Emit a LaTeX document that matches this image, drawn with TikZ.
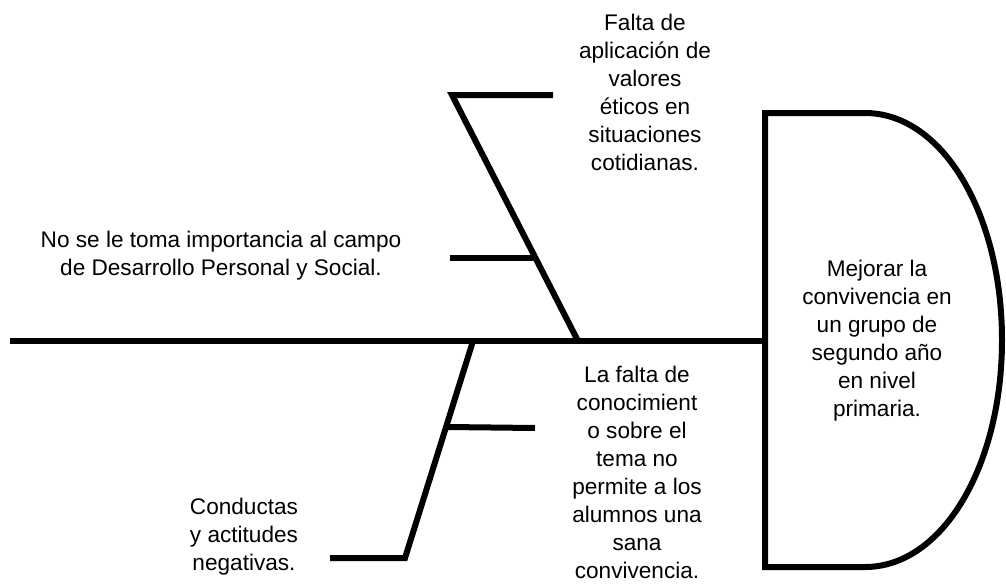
\documentclass[tikz,border=0pt]{standalone}
\usepackage{fontspec}
\setmainfont{Liberation Sans}
\begin{document}
\begin{tikzpicture}[x=1pt,y=-1pt,
  bone/.style={line width=6pt,black},
  lbl/.style={align=center,inner sep=0pt,font=\fontsize{22.6}{28}\selectfont}]
\useasboundingbox (0,0) rectangle (1006,584);
% coordinates
\coordinate (tail) at (10,341);
\coordinate (headL) at (765,341);
\coordinate (u1base) at (578,341);
\coordinate (u1top) at (452,95);
\coordinate (u1end) at (553,95);
\coordinate (u2a) at (450,258);
\coordinate (u2b) at (535.5,258);
\coordinate (l1base) at (473,341);
\coordinate (l1bot) at (405,558);
\coordinate (l1end) at (330,558);
\coordinate (l2a) at (448,427);
\coordinate (l2b) at (535,428);
% head
\draw[bone] (765,113) -- (865,113)
  .. controls (943,113) and (1002,215) .. (1002,340)
  .. controls (1002,465) and (943,567) .. (865,567)
  -- (765,567) -- cycle;
% spine
\draw[bone] (tail) -- (headL);
% upper bone
\draw[bone] (u1end) -- (u1top) -- (u1base);
\draw[bone] (u2a) -- (u2b);
% lower bone
\draw[bone] (l1end) -- (l1bot) -- (l1base);
\draw[bone] (l2a) -- (l2b);
% labels
\node[lbl] (t1) at (645,92) {Falta de\\aplicación de\\valores\\éticos en\\situaciones\\cotidianas.};
\node[lbl] (t2) at (221,256) {No se le toma importancia al campo\\de Desarrollo Personal y Social.};
\node[lbl] (t3) at (877,341) {Mejorar la\\convivencia en\\un grupo de\\segundo año\\en nivel\\primaria.};
\node[lbl] (t4) at (637,472) {La falta de\\conocimient\\o sobre el\\tema no\\permite a los\\alumnos una\\sana\\convivencia.};
\node[lbl] (t5) at (244,537) {Conductas\\y actitudes\\negativas.};
\end{tikzpicture}
\end{document}
